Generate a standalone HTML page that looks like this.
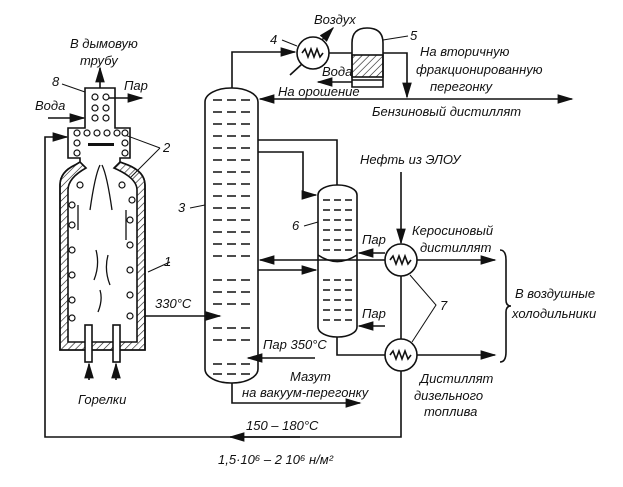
<!DOCTYPE html>
<html><head><meta charset="utf-8"><style>
html,body{margin:0;padding:0;background:#fff}
svg text{font-family:"Liberation Sans",sans-serif;font-style:italic;font-size:13px;fill:#111}
</style></head><body>
<svg width="623" height="482" viewBox="0 0 623 482" xmlns="http://www.w3.org/2000/svg">
<defs>
<marker id="a" markerWidth="10" markerHeight="6" refX="9" refY="3" orient="auto"><path d="M0,0 L10,3 L0,6 Z" fill="#111"/></marker>
<pattern id="h" width="5" height="5" patternUnits="userSpaceOnUse" patternTransform="rotate(45)"><line x1="0" y1="0" x2="0" y2="5" stroke="#111" stroke-width="1.2"/></pattern>
</defs>
<g stroke="#111" stroke-width="1.6" fill="none">
<!-- furnace -->
<path d="M60,350 L60,185 Q60,172 75,165 L80,162 L80,158 L68,158 L68,128 L85,128 L85,88 L115,88 L115,128 L130,128 L130,158 L120,158 L120,162 L128,165 Q145,172 145,185 L145,350 Z" fill="#fff"/>
<path d="M60,350 L60,185 Q60,172 75,165 L80,162 L86,168 Q68,178 68,190 L68,342 L137,342 L137,190 Q137,178 114,168 L120,162 L128,165 Q145,172 145,185 L145,350 Z" fill="url(#h)"/>
<rect x="85" y="325" width="7" height="37" fill="#fff"/>
<rect x="113" y="325" width="7" height="37" fill="#fff"/>
<line x1="89" y1="380" x2="89" y2="364" marker-end="url(#a)"/>
<line x1="116" y1="380" x2="116" y2="364" marker-end="url(#a)"/>
<line x1="100" y1="88" x2="100" y2="68" marker-end="url(#a)"/>
<line x1="108" y1="98" x2="142" y2="98" marker-end="url(#a)"/>
<line x1="48" y1="118" x2="84" y2="118" marker-end="url(#a)"/>
<path d="M401,405 L401,437 L45,437 L45,137 L67,137" marker-end="url(#a)"/>
<line x1="300" y1="437" x2="230" y2="437" marker-end="url(#a)"/>
<!-- column 3 & stripper bodies -->
<rect x="205" y="88" width="53" height="295" rx="26" ry="14" fill="#fff"/>
<rect x="318" y="185" width="39" height="152" rx="19" ry="10" fill="#fff"/>
<path d="M318,255 Q337,268 357,255"/>
<line x1="145" y1="316" x2="220" y2="316" marker-end="url(#a)"/>
<path d="M232,88 L232,52 L295,52" marker-end="url(#a)"/>
<circle cx="313" cy="53" r="16"/>
<path d="M302,53 l3,-4 l3,8 l3,-8 l3,8 l3,-8 l3,8 l3,-4"/>
<line x1="322" y1="40" x2="333" y2="28" marker-end="url(#a)"/>
<line x1="290" y1="75" x2="302" y2="64"/>
<line x1="329" y1="53" x2="352" y2="53"/>
<path d="M352,87 L352,43 Q352,28 367,28 Q383,28 383,43 L383,87 Z" fill="#fff"/>
<rect x="352" y="55" width="31" height="22" fill="url(#h)"/>
<line x1="352" y1="80" x2="383" y2="80"/>
<path d="M383,53 L407,53 L407,97" marker-end="url(#a)"/>
<line x1="352" y1="82" x2="318" y2="82" marker-end="url(#a)"/>
<line x1="407" y1="99" x2="260" y2="99" marker-end="url(#a)"/>
<line x1="407" y1="99" x2="572" y2="99" marker-end="url(#a)"/>
<path d="M258,140 L337,140 L337,185"/>
<path d="M258,152 L303,152 L303,195 L316,195" marker-end="url(#a)"/>
<line x1="350" y1="260" x2="260" y2="260" marker-end="url(#a)"/>
<line x1="258" y1="270" x2="316" y2="270" marker-end="url(#a)"/>
<line x1="385" y1="253" x2="359" y2="253" marker-end="url(#a)"/>
<line x1="385" y1="326" x2="359" y2="326" marker-end="url(#a)"/>
<line x1="350" y1="260" x2="495" y2="260" marker-end="url(#a)"/>
<path d="M337,337 L337,355 L495,355" marker-end="url(#a)"/>
<line x1="401" y1="172" x2="401" y2="243" marker-end="url(#a)"/>
<line x1="401" y1="276" x2="401" y2="339"/>
<line x1="401" y1="371" x2="401" y2="405"/>
<circle cx="401" cy="260" r="16" fill="#fff"/>
<circle cx="401" cy="355" r="16" fill="#fff"/>
<path d="M390,260 l3,-4 l3,8 l3,-8 l3,8 l3,-8 l3,8 l3,-4"/>
<path d="M390,355 l3,-4 l3,8 l3,-8 l3,8 l3,-8 l3,8 l3,-4"/>
<path d="M410,275 L436,305 L412,342" stroke-width="1"/>
<path d="M500,250 Q506,250 506,260 L506,300 Q506,306 511,306 Q506,306 506,312 L506,352 Q506,362 500,362"/>
<line x1="315" y1="358" x2="248" y2="358" marker-end="url(#a)"/>
<path d="M232,383 L232,403 L360,403" marker-end="url(#a)"/>
<g stroke-width="1">
<path d="M282,40 L297,46"/><path d="M383,40 L408,36"/><path d="M190,208 L205,205"/>
<path d="M170,262 L148,272"/><path d="M62,84 L85,92"/><path d="M160,148 L125,135 M160,148 L130,178"/>
<path d="M304,226 L318,222"/>
</g>
</g>
<!-- coils -->
<g fill="#fff" stroke="#111" stroke-width="1.2">
<circle cx="95" cy="97" r="3"/><circle cx="106" cy="97" r="3"/><circle cx="95" cy="108" r="3"/><circle cx="106" cy="108" r="3"/><circle cx="95" cy="118" r="3"/><circle cx="106" cy="118" r="3"/>
<circle cx="77" cy="133" r="3"/><circle cx="87" cy="133" r="3"/><circle cx="97" cy="133" r="3"/><circle cx="107" cy="133" r="3"/><circle cx="117" cy="133" r="3"/><circle cx="125" cy="133" r="3"/>
<circle cx="77" cy="143" r="3"/><circle cx="125" cy="143" r="3"/><circle cx="77" cy="153" r="3"/><circle cx="125" cy="153" r="3"/>
<circle cx="80" cy="185" r="3"/><circle cx="122" cy="185" r="3"/>
<circle cx="72" cy="205" r="3"/><circle cx="72" cy="225" r="3"/><circle cx="72" cy="250" r="3"/><circle cx="72" cy="275" r="3"/><circle cx="72" cy="300" r="3"/><circle cx="72" cy="318" r="3"/>
<circle cx="132" cy="200" r="3"/><circle cx="130" cy="220" r="3"/><circle cx="130" cy="245" r="3"/><circle cx="130" cy="270" r="3"/><circle cx="130" cy="295" r="3"/><circle cx="130" cy="316" r="3"/>
</g>
<rect x="88" y="143" width="26" height="3" fill="#111"/>
<g stroke="#111" stroke-width="1.3" fill="none">
<path d="M90,210 Q95,175 100,165" /><path d="M112,210 Q107,175 102,165"/>
<path d="M78,205 L78,230"/><path d="M126,210 L126,240"/>
<path d="M96,250 q4,15 -2,30 M108,255 q-4,15 2,30 M100,290 q3,10 -2,22"/>
</g>
<g stroke="#111" stroke-width="1.5">
<path d="M213,100h9m5,0h9m5,0h9 M213,112h9m5,0h9m5,0h9 M213,124h9m5,0h9m5,0h9 M213,136h9m5,0h9m5,0h9 M213,148h9m5,0h9m5,0h9 M213,160h9m5,0h9m5,0h9 M213,172h9m5,0h9m5,0h9 M213,184h9m5,0h9m5,0h9 M213,196h9m5,0h9m5,0h9 M213,208h9m5,0h9m5,0h9 M213,220h9m5,0h9m5,0h9 M213,232h9m5,0h9m5,0h9 M213,244h9m5,0h9m5,0h9 M213,256h9m5,0h9m5,0h9 M213,280h9m5,0h9m5,0h9 M213,292h9m5,0h9m5,0h9 M213,304h9m5,0h9m5,0h9 M213,328h9m5,0h9m5,0h9 M213,340h9m5,0h9m5,0h9 M213,364h9m5,0h9m5,0h9 M213,374h9m5,0h9m5,0h9"/>
<path d="M323,200h7m4,0h7m4,0h7 M323,210h7m4,0h7m4,0h7 M323,220h7m4,0h7m4,0h7 M323,230h7m4,0h7m4,0h7 M323,240h7m4,0h7m4,0h7 M323,250h7m4,0h7m4,0h7 M323,280h7m4,0h7m4,0h7 M323,290h7m4,0h7m4,0h7 M323,300h7m4,0h7m4,0h7 M323,310h7m4,0h7m4,0h7 M323,320h7m4,0h7m4,0h7"/>
</g>
<text x="70" y="48">В дымовую</text><text x="80" y="65">трубу</text>
<text x="52" y="86">8</text><text x="124" y="90">Пар</text><text x="35" y="110">Вода</text>
<text x="163" y="152">2</text><text x="164" y="266">1</text><text x="155" y="308">330°C</text>
<text x="78" y="404">Горелки</text><text x="178" y="212">3</text>
<text x="270" y="44">4</text><text x="314" y="24">Воздух</text><text x="410" y="40">5</text>
<text x="322" y="76" font-size="11">Вода</text><text x="278" y="96">На орошение</text>
<text x="420" y="56">На вторичную</text><text x="416" y="74">фракционированную</text><text x="430" y="91">перегонку</text>
<text x="372" y="116">Бензиновый дистиллят</text>
<text x="360" y="164">Нефть из ЭЛОУ</text><text x="292" y="230">6</text>
<text x="362" y="244">Пар</text><text x="362" y="318">Пар</text>
<text x="412" y="235">Керосиновый</text><text x="420" y="252">дистиллят</text>
<text x="440" y="310">7</text><text x="515" y="298">В воздушные</text><text x="512" y="318">холодильники</text>
<text x="263" y="349">Пар 350°C</text><text x="290" y="381">Мазут</text><text x="242" y="397">на вакуум-перегонку</text>
<text x="420" y="383">Дистиллят</text><text x="414" y="400">дизельного</text><text x="424" y="416">топлива</text>
<text x="246" y="430">150 – 180°C</text><text x="218" y="464">1,5·10⁶ – 2 10⁶ н/м²</text>
</svg>
</body></html>
